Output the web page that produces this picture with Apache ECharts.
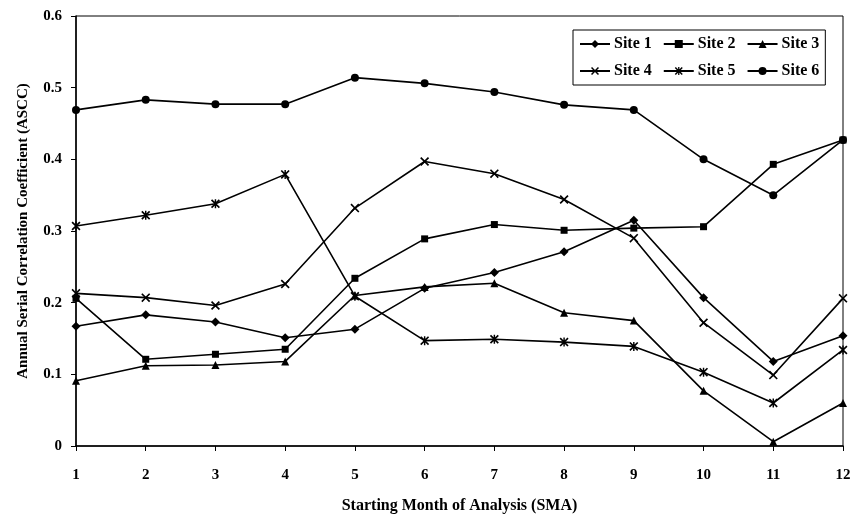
<!DOCTYPE html>
<html>
<head>
<meta charset="utf-8">
<script src="https://cdn.jsdelivr.net/npm/echarts@6/dist/echarts.min.js"></script>
<style>html,body{margin:0;padding:0;background:#fff}#c{width:860px;height:514px}</style>
</head>
<body>
<div id="c"></div>
<script>
const months = ['1','2','3','4','5','6','7','8','9','10','11','12'];
const yTicks = [0, 0.1, 0.2, 0.3, 0.4, 0.5, 0.6];
const site1 = [0.167, 0.183, 0.173, 0.151, 0.163, 0.220, 0.242, 0.271, 0.315, 0.207, 0.118, 0.154];
const site2 = [0.206, 0.121, 0.128, 0.135, 0.234, 0.289, 0.309, 0.301, 0.304, 0.306, 0.393, 0.427];
const site3 = [0.091, 0.112, 0.113, 0.118, 0.210, 0.222, 0.227, 0.186, 0.175, 0.077, 0.006, 0.060];
const site4 = [0.213, 0.207, 0.196, 0.226, 0.332, 0.397, 0.380, 0.344, 0.290, 0.172, 0.099, 0.206];
const site5 = [0.307, 0.322, 0.338, 0.379, 0.209, 0.147, 0.149, 0.145, 0.139, 0.103, 0.060, 0.134];
const site6 = [0.469, 0.483, 0.477, 0.477, 0.514, 0.506, 0.494, 0.476, 0.469, 0.400, 0.350, 0.427];
const seriesNames = ['Site 1','Site 2','Site 3','Site 4','Site 5','Site 6'];

const FONT = "'Liberation Serif', 'Times New Roman', serif";
const X_PATH = 'path://M0,1.3L1.3,0L5,3.7L8.7,0L10,1.3L6.3,5L10,8.7L8.7,10L5,6.3L1.3,10L0,8.7L3.7,5Z';
const AST_PATH = 'path://M0,1.3L1.3,0L5,3.7L8.7,0L10,1.3L6.3,5L10,8.7L8.7,10L5,6.3L1.3,10L0,8.7L3.7,5Z M4.2,0L5.8,0L5.8,10L4.2,10Z';
const symbols = ['diamond','rect','triangle',X_PATH,AST_PATH,'circle'];
const sizes = [9,7,8,9,9,8];
const dataSets = [site1, site2, site3, site4, site5, site6];

const chart = echarts.init(document.getElementById('c'), null, {renderer:'canvas'});
chart.setOption({
  backgroundColor: '#fff',
  animation: false,
  textStyle: {fontFamily: FONT},
  grid: {left: 76, right: 17, top: 16, bottom: 68, show: true, borderColor: '#000', borderWidth: 1,
    containLabel: false, outerBoundsMode: 'none'},
  legend: {
    left: 573, top: 30, width: 245,
    orient: 'horizontal',
    padding: [6, 6],
    itemGap: 11,
    itemWidth: 30, itemHeight: 10,
    borderColor: '#000', borderWidth: 1,
    backgroundColor: '#fff',
    textStyle: {fontFamily: FONT, fontWeight: 'bold', fontSize: 16, color: '#000', padding: [0,0,0,-1]},
    data: seriesNames
  },
  xAxis: {
    type: 'category',
    data: months,
    boundaryGap: false,
    name: 'Starting Month of Analysis (SMA)',
    nameLocation: 'middle',
    nameGap: 52,
    nameTextStyle: {fontFamily: FONT, fontWeight: 'bold', fontSize: 16, color: '#000'},
    axisLine: {lineStyle: {color: '#000', width: 1.5}},
    axisTick: {show: true, length: 5, lineStyle: {color: '#000'}, alignWithLabel: true},
    axisLabel: {fontFamily: FONT, fontWeight: 'bold', fontSize: 15, color: '#000', margin: 22},
    splitLine: {show: false}
  },
  yAxis: {
    type: 'value',
    min: yTicks[0], max: yTicks[yTicks.length-1], interval: 0.1,
    name: 'Annual Serial Correlation Coefficient (ASCC)',
    nameLocation: 'middle',
    nameGap: 45,
    nameTextStyle: {fontFamily: FONT, fontWeight: 'bold', fontSize: 15, color: '#000'},
    axisLine: {show: true, lineStyle: {color: '#000', width: 1.5}},
    axisTick: {show: true, length: 5, lineStyle: {color: '#000'}},
    axisLabel: {fontFamily: FONT, fontWeight: 'bold', fontSize: 15, color: '#000', margin: 14,
      formatter: v => (v === 0 ? '0' : v.toFixed(1))},
    splitLine: {show: false}
  },
  series: seriesNames.map((n, i) => ({
    name: n,
    type: 'line',
    data: dataSets[i],
    symbol: symbols[i],
    symbolSize: sizes[i],
    showAllSymbol: true,
    lineStyle: {color: '#000', width: 1.6},
    itemStyle: {color: '#000', borderColor: '#000', borderWidth: 0},
    emphasis: {disabled: true}
  }))
});
</script>
</body>
</html>
